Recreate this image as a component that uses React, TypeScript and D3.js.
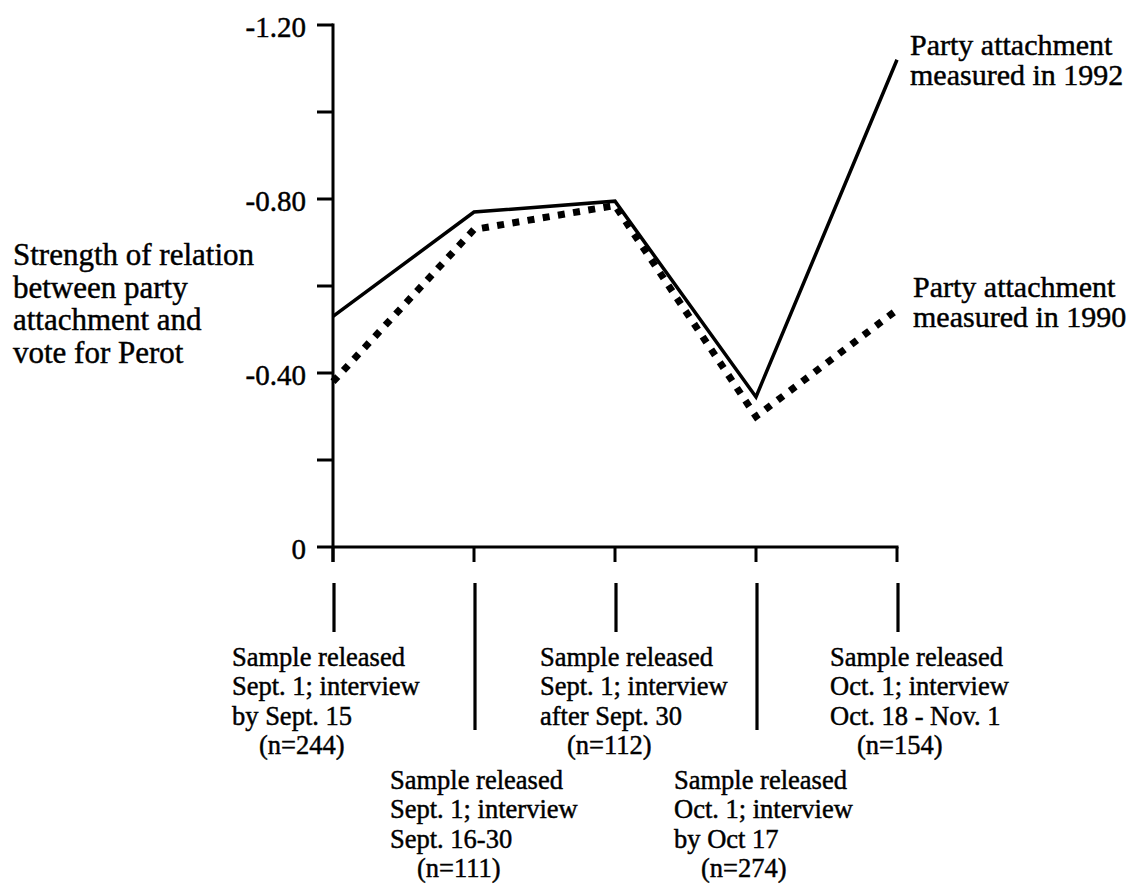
import React from "react";
import * as d3 from "d3";

const categories = ["c1", "c2", "c3", "c4", "c5"];
const series1992 = [-0.53, -0.77, -0.795, -0.345, -1.12];
const series1990 = [-0.38, -0.73, -0.785, -0.3, -0.545];
const yTicks = [0, -0.2, -0.4, -0.6, -0.8, -1.0, -1.2];
const yTickLabels = ["0", "", "-0.40", "", "-0.80", "", "-1.20"];
const categoryLabels = [
  ["Sample released", "Sept. 1; interview", "by Sept. 15", "(n=244)"],
  ["Sample released", "Sept. 1; interview", "Sept. 16-30", "(n=111)"],
  ["Sample released", "Sept. 1; interview", "after Sept. 30", "(n=112)"],
  ["Sample released", "Oct. 1; interview", "by Oct 17", "(n=274)"],
  ["Sample released", "Oct. 1; interview", "Oct. 18 - Nov. 1", "(n=154)"],
];
const yTitleLines = ["Strength of relation", "between party", "attachment and", "vote for Perot"];
const legend1992 = ["Party attachment", "measured in 1992"];
const legend1990 = ["Party attachment", "measured in 1990"];

const W = 1143;
const H = 885;
const FONT = "'Liberation Serif', 'Times New Roman', serif";

export default function App() {
  const x = d3.scalePoint<string>().domain(categories).range([333, 897]);
  const y = d3.scaleLinear().domain([0, -1.2]).range([547, 25]);
  const line = d3
    .line<number>()
    .x((_, i) => x(categories[i]) as number)
    .y((d) => y(d));

  // layout for the hand-placed category labels
  const labelLayout = [
    { dx: -101, row: 0 },
    { dx: -84, row: 1 },
    { dx: -75, row: 0 },
    { dx: -82, row: 1 },
    { dx: -67, row: 0 },
  ];
  const rowBase = [666, 789];
  const lh = 29.3;
  const textStroke = { stroke: "#000", strokeWidth: 0.45 };

  return (
    <svg
      width={W}
      height={H}
      style={{ position: "absolute", left: 0, top: 0, background: "#fff" }}
      fontFamily={FONT}
    >
      {/* y axis */}
      <line x1={333} x2={333} y1={y(-1.2) - 1.5} y2={562} stroke="#000" strokeWidth={3} />
      {yTicks.map((t, i) => (
        <g key={"yt" + i}>
          <line x1={317} x2={333} y1={y(t)} y2={y(t)} stroke="#000" strokeWidth={3} />
          {yTickLabels[i] && (
            <text x={306} y={y(t) + 12} textAnchor="end" fontSize={29} fill="#000" {...textStroke}>
              {yTickLabels[i]}
            </text>
          )}
        </g>
      ))}
      {/* x axis */}
      <line x1={332} x2={898.5} y1={y(0)} y2={y(0)} stroke="#000" strokeWidth={3} />
      {categories.map((c) => (
        <line key={"xt" + c} x1={x(c)} x2={x(c)} y1={y(0)} y2={562} stroke="#000" strokeWidth={3} />
      ))}
      {/* separate category markers */}
      {categories.map((c, i) => (
        <line
          key={"mk" + c}
          x1={(x(c) as number) + 1}
          x2={(x(c) as number) + 1}
          y1={583}
          y2={labelLayout[i].row === 1 ? 730 : 632}
          stroke="#000"
          strokeWidth={3.2}
        />
      ))}
      {/* category labels */}
      {categories.map((c, i) => {
        const lx = (x(c) as number) + labelLayout[i].dx;
        const by = rowBase[labelLayout[i].row];
        return (
          <text key={"cl" + c} fontSize={26.5} fill="#000" {...textStroke}>
            {categoryLabels[i].map((s, j) => (
              <tspan key={j} x={j === 3 ? lx + 27 : lx} y={by + j * lh}>
                {s}
              </tspan>
            ))}
          </text>
        );
      })}
      {/* y title */}
      <text fontSize={31} fill="#000" {...textStroke}>
        {yTitleLines.map((s, j) => (
          <tspan key={j} x={13} y={265 + j * 32.6}>
            {s}
          </tspan>
        ))}
      </text>
      {/* series */}
      <path d={line(series1992) || ""} fill="none" stroke="#000" strokeWidth={3.5} strokeLinejoin="miter" />
      <path
        d={line(series1990) || ""}
        fill="none"
        stroke="#000"
        strokeWidth={7}
        strokeDasharray="7 8.4"
        strokeLinecap="butt"
      />
      {/* legend labels */}
      <text fontSize={30} fill="#000" {...textStroke}>
        {legend1992.map((s, j) => (
          <tspan key={j} x={910} y={55 + j * 30}>
            {s}
          </tspan>
        ))}
      </text>
      <text fontSize={30} fill="#000" {...textStroke}>
        {legend1990.map((s, j) => (
          <tspan key={j} x={913} y={297 + j * 30}>
            {s}
          </tspan>
        ))}
      </text>
    </svg>
  );
}
